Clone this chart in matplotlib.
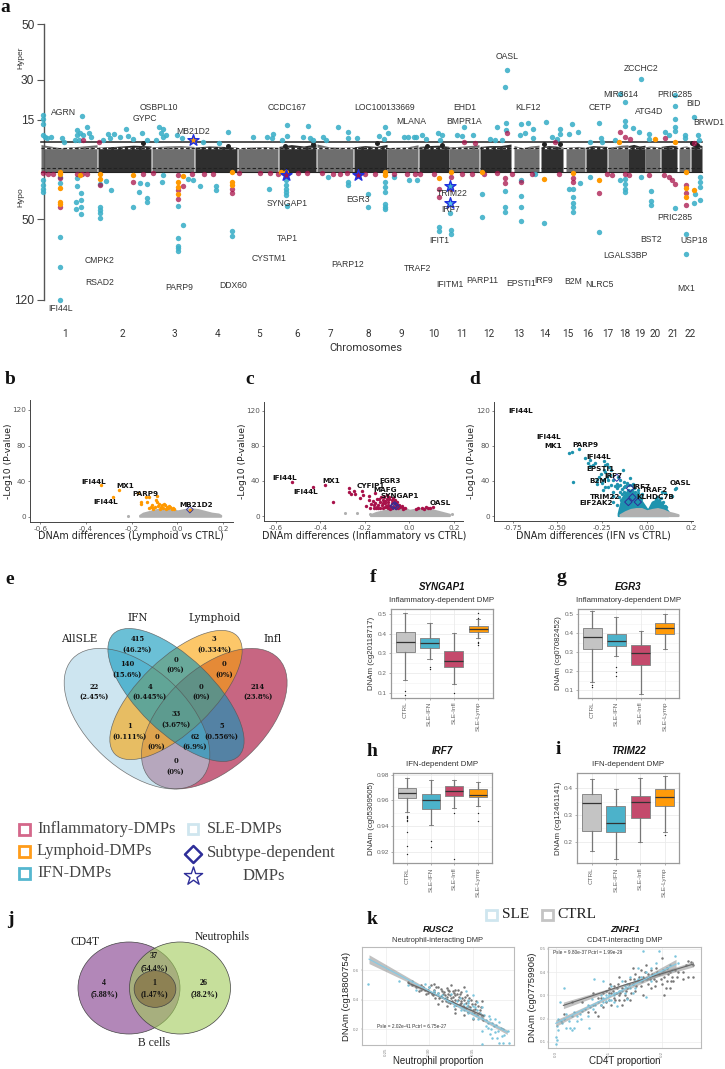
import numpy as np
import matplotlib
matplotlib.use('Agg')
import matplotlib.pyplot as plt
from matplotlib.patches import Ellipse, Rectangle

plt.rcParams['font.family'] = ['Liberation Sans', 'DejaVu Sans']

W, H = 725, 1069
TEAL, RED, ORANGE, GREY = '#3fb1c9', '#a8124a', '#ff9900', '#c4c4c4'
NAVY = '#2e2e99'

# ---------------- panel a data: (position, signed -log10 P) ----------------
chrom_names = [str(i) for i in range(1, 23)]
chrom_label_pos = [65, 122.7, 174.3, 217.7, 259, 296.7, 330, 368, 401, 434.3, 462.3, 488.7, 519.3,
                   544.7, 568, 588, 608, 625.3, 640.3, 655.3, 672.7, 690.3]
chrom_start = [41, 98, 152, 195, 238, 279, 317, 354, 387, 419, 449, 480, 514, 541, 566, 586, 608, 628, 645, 661, 679, 691]
chrom_end = [97, 151, 194, 237, 278, 316, 353, 387, 418, 449, 479, 511, 539, 563, 585, 607, 628, 645, 660, 677, 690, 702]
chrom_top = [[6.5, 5.0, 5.6, 6.4], [5.2, 5.6, 6.2, 5.8], [5.4, 5.8, 6.0, 5.6], [5.3, 5.8, 5.6, 5.2], [5.0, 5.3, 5.5, 5.2],
             [5.6, 6.5, 5.8, 6.8], [6.8, 5.4, 5.2, 5.4], [5.4, 6.0, 5.6, 6.6], [5.0, 5.2, 5.4, 6.4], [5.6, 6.0, 6.2, 5.6],
             [5.4, 5.6, 6.0, 6.4], [5.6, 6.0, 6.0, 6.8], [6.0, 5.0, 5.8, 6.2], [5.4, 6.0, 5.8, 5.2], [5.2, 5.4, 5.6, 5.2],
             [5.4, 6.0, 5.8, 5.6], [5.2, 5.6, 6.2, 6.4], [6.0, 6.6, 5.8, 6.2], [5.4, 5.8, 5.6, 5.4], [5.6, 6.0, 6.2, 5.8],
             [5.0, 5.6, 5.8, 5.2], [5.4, 6.4, 6.6, 6.0]]
hyper_teal = [(43,16.9),(43,15.4),(43,13.7),(43,10),(45,9.2),(47,8.9),(51,9.4),(82,16.5),(87,12.6),(77,11.7),(77,10),(80,10.6),
 (89,10.6),(91,9.4),(75,8.3),(79,8.3),(83,10),(62,8.9),(64,7.8),(108,10.2),(114,10.2),(120,9.4),(126,12.1),(103,8.3),(110,8.9),
 (128,9.7),(133,8.6),(142,10.8),(156,8.3),(147,8.3),(159,12.8),(163,11.9),(161,10.8),(166,10),(163,9.4),(177,10),(182,8.9),(203,7.8),
 (219,7.4),(228,11),(253,9.2),(267,9.4),(273,10.2),(272,8.9),(282,8.3),(287,13.3),(287,9.7),(303,9.4),(308,13),(310,8.9),(313,8.3),
 (323,9.2),(326,8.3),(338,12.6),(348,11.1),(348,8.9),(357,8.9),(379,9.7),(385,12.8),(388,10.6),(384,8.6),(404,9.4),(408,9.4),(414,9.4),
 (416,9.2),(422,10),(426,8.6),(438,10.6),(442,10),(440,8.3),(457,10),(462,9.7),(464,12.8),(473,10),(497,12.8),(490,8.6),(495,8.3),
 (502,8.3),(506,14.1),(506,11.7),(507,33.5),(505,27.3),(521,13.6),(528,14.1),(520,10),(525,10.6),(533,11.9),(533,8.9),(546,14.2),
 (560,11.9),(560,10.2),(552,9.4),(557,8.6),(569,10.3),(572,13.7),(578,10.9),(590,7.8),(599,13.9),(601,8.9),(602,7.8),(615,8.3),
 (620,24.6),(625,21.9),(625,14.8),(625,13),(633,12.2),(639,11.1),(641,30.3),(649,10.2),(649,8.6),(665,11.1),(669,10),(675,24.4),
 (675,20.3),(675,15.4),(675,12.8),(675,11.4),(685,10),(694,16.3),(698,10),(699,8.3),(685,8.9)]
hypo_teal = [(43,-14.8),(43,-19.2),(43,-22.2),(43,-25.2),(60,-11.8),(60,-17.2),(60,-65),(60,-90.9),(60,-120),(77,-12.7),(77,-20.1),
 (81,-26.1),(76,-34.2),(81,-32.7),(76,-41),(81,-39.2),(81,-44.9),(100,-17.7),(100,-38.6),(100,-41.6),(100,-44.6),(100,-49.1),(106,-15.4),
 (111,-23.4),(133,-39.2),(139,-24.9),(140,-17.2),(147,-17.7),(147,-30.3),(147,-34.5),(162,-16.3),(163,-10.3),(178,-38),(183,-54.9),
 (178,-66.5),(178,-72.9),(178,-75.2),(178,-77.2),(188,-13.3),(193,-14.2),(200,-19.5),(216,-19.8),(216,-23.1),(232,-59.6),(232,-64.2),
 (269,-22.5),(286,-14.8),(286,-19.2),(286,-22.2),(286,-25.2),(286,-28.2),(287,-37.7),(328,-11.8),(348,-16.3),(348,-18.6),(368,-39.2),
 (368,-26.7),(385,-16.3),(385,-20.7),(385,-25.2),(385,-36.3),(385,-38.6),(385,-40.7),(394,-11.8),(409,-14.8),(417,-14.8),(439,-56.7),
 (439,-59.6),(450,-44.6),(451,-59.3),(451,-62.2),(482,-26.7),(482,-48.2),(505,-24.6),(505,-39.2),(505,-43.7),(521,-14.8),(521,-28.8),
 (521,-39.2),(521,-51.2),(535,-8.8),(544,-53.2),(569,-22.2),(573,-22.8),(573,-29.7),(573,-35),(573,-38.6),(573,-43.7),(580,-16.9),
 (590,-11.8),(599,-60.7),(620,-14.8),(625,-13.3),(625,-17.7),(625,-22.2),(625,-25.2),(641,-11.8),(651,-24.3),(651,-33.6),(651,-37.2),
 (675,-39.5),(686,-63),(686,-80.4),(694,-35),(700,-11.8),(700,-16.3),(700,-20.7),(700,-32.7),(695,-26.7)]
man_orange = [(60,-7.3),(60,-9.4),(60,-21.6),(60,-34.2),(60,-35.7),(80,-10.3),(100,-8.8),(100,-13.3),(133,-10.3),(183,-11.2),(178,-16.3),
 (178,-20.7),(178,-27.3),(232,-7.3),(232,-16.3),(232,-19.2),(281,-7.3),(286,-7.3),(385,-7.3),(385,-10.3),(439,-12.4),(451,-7.3),(482,-7.3),
 (544,-13.3),(573,-8.5),(599,-14.2),(686,-7.6),(686,-21.3),(686,-29.7),(694,-23.1),(619,7.7),(655,8.7),(675,7.6)]
man_red = [(43,-8.2),(48,-9.4),(53,-8.8),(60,-12.7),(60,-39.2),(77,-8.8),(82,-8.8),(87,-8.8),(100,-19.2),(133,-16.3),(143,-9.4),(153,-8.2),
 (178,-10.3),(178,-23.7),(178,-31.2),(183,-20.1),(192,-8.8),(204,-9.4),(213,-9.4),(232,-22.2),(232,-26.1),(239,-8.2),(260,-8.2),(270,-8.2),
 (278,-8.8),(298,-8.2),(307,-8.2),(322,-8.2),(333,-8.8),(340,-8.8),(347,-8.2),(365,-8.8),(375,-8.8),(394,-8.8),(407,-8.8),(415,-8.8),
 (420,-8.8),(434,-8.8),(439,-29.7),(439,-22.2),(451,-11.8),(451,-22.2),(462,-8.8),(472,-8.8),(484,-8.8),(497,-8.2),(505,-12.4),(505,-17.2),
 (521,-16.3),(512,-8.8),(532,-8.8),(559,-9.4),(573,-12.4),(573,-16.3),(599,-25.8),(607,-9.4),(612,-10.3),(625,-9.4),(629,-10.3),(649,-10.3),
 (664,-10.3),(669,-11.8),(672,-14.8),(675,-17.7),(686,-19.2),(686,-26.1),(686,-37.2),(83,8.3),(99,7.6),(620,10.9),(625,9.4),(630,8.8),
 (507,10.6),(464,7.8),(475,7.2),(555,7.8),(665,8.9),(694,7.4)]
man_dark = [(143,7.2),(228,5.6),(285,6),(313,7),(377,7.4),(427,6),(442,6.1),(544,7),(560,7),(697,6.1),(692,7.4)]
man_stars = [(193,8.3,ORANGE),(286,-10.3,RED),(358,-10.3,RED),(450,-19.8,TEAL),(450,-35,'#55bfe8')]
man_labels = [('AGRN',64,17.75),('OSBPL10',159,19.5),('GYPC',145,15.4),('MB21D2',193,11),('CCDC167',287,19.5),('LOC100133669',385,19.5),
 ('MLANA',411,14.5),('EHD1',465,19.5),('BMPR1A',464,14.5),('KLF12',528,19.75),('CETP',600,19.75),('OASL',507,38.5),('ZCCHC2',641,34.1),
 ('MIR3614',621,24.6),('PRIC285',675,24.4),('BID',693,21),('ATG4D',649,18),('BRWD1',709,14.2),('SYNGAP1',287,-35.4),('EGR3',358,-32),
 ('TRIM22',452,-27),('IRF7',451,-40.7),('IFIT1',439,-68.6),('TAP1',287,-66.5),('CYSTM1',269,-84.2),('PARP12',348,-89),('TRAF2',417,-92.3),
 ('IFITM1',450,-106.5),('PARP11',482,-102.8),('EPSTI1',521,-105.4),('IRF9',544,-103.3),('B2M',573,-104.2),('NLRC5',599,-106.5),
 ('LGALS3BP',625,-81),('BST2',651,-67.4),('USP18',694,-68.6),('PRIC285',675,-48.2),('MX1',686,-110),('CMPK2',100,-86),('RSAD2',100,-104.5),
 ('PARP9',179,-109),('DDX60',233,-107),('IFI44L',61,-127.7)]

# ---------------- volcano data ----------------
b_orange = [(-.334,35.6),(-.254,30),(-.28,22),(-.16,16),(-.159,14),(-.139,22),(-.131,17),(-.123,22),(-.09,23),(-.093,19),(-.09,16),(-.079,14),
 (-.117,11),(-.108,9),(-.098,11),(-.054,13),(-.061,10),(-.047,11),(-.032,10.5),(-.025,9),(-.076,9),(.055,8),(-.171,27),
 (-.11,13),(-.105,10),(-.085,12),(-.07,11),(-.065,13),(-.057,14),(-.05,9),(-.04,10),(-.035,12),(-.02,9.5),(-.015,8.5),(-.125,10)]
b_labels = [('IFI44L',-.365,39.4),('MX1',-.228,34.9),('PARP9',-.14,25.1),('IFI44L',-.314,16),('MB21D2',.082,12.6)]
b_hump_x = [-.165,-.15,-.12,-.09,-.06,-.03,0,.03,.06,.09,.12,.15,.18,.19]
b_hump_y = [1.5,4,6,8,9,9,6.5,8,9,8,6,4,3,1.5]
b_grey = [(-.215,1)]
b_diamonds = [(.055,8)]
c_red = [(-.526,39),(-.431,33),(-.379,35),(-.342,16),(-.271,31.6),(-.271,28),(-.249,29),(-.246,25),(-.264,25),(-.214,28.6),(-.207,24),(-.222,21),
 (-.181,23),(-.181,18),(-.174,14),(-.196,12),(-.177,9.5),(-.154,26),(-.147,20),(-.159,12.6),(-.147,10.7),(-.132,16),(-.117,18),(-.102,20),
 (-.124,12.6),(-.109,14.5),(-.094,16),(-.079,14.5),(-.132,8.8),(-.102,10.7),(-.079,9.5),(-.057,12.6),(-.042,10.7),(-.027,9.5),(-.064,18),
 (.055,9.5),(.075,10.7),(.093,8.8),(.105,10.7),(.03,8),(-.15,9),(-.12,9),(-.09,19),(-.07,16),(-.11,17),
 (-.165,17),(-.155,15),(-.14,13),(-.135,19),(-.128,22),(-.12,15),(-.115,22),(-.105,12),(-.1,24),(-.095,12.5),(-.09,22),(-.085,11),(-.08,18),
 (-.075,21),(-.07,10),(-.065,14),(-.055,16),(-.05,9.5),(-.045,13),(-.035,12),(-.03,8.5),(-.02,9),(-.16,9),(-.14,9.5),(-.11,10),(-.095,9),
 (-.085,8.5),(-.06,9),(.04,9),(.065,8.5),(.085,9.5)]
c_labels = [('IFI44L',-.559,43),('IFI44L',-.464,27.8),('MX1',-.349,40),('CYFIP1',-.172,34.7),('EGR3',-.087,40.4),('MAFG',-.109,29.3),
 ('SYNGAP1',-.042,22.9),('OASL',.138,15.2)]
c_hump_x = [-.175,-.15,-.11,-.08,-.05,-.02,0,.03,.06,.09,.12,.15,.18]
c_hump_y = [1.5,4,6.5,8,9,9,6.5,8,9,8,6,4,2]
c_grey = [(-.288,3.8),(-.237,3),(-.177,2.3),(-.14,2.3),(.193,2.3),(.145,2.3)]
c_diamonds = [(-.072,11.4),(-.06,11),(-.066,12.5)]
d_teal = [(-.433,72),(-.42,73.5),(-.377,76.6),(-.345,66),(-.317,64),(-.326,60),(-.289,61),(-.32,57.5),(-.237,63),(-.233,58),(-.22,59),(-.214,56),
 (-.134,52.6),(-.256,48),(-.233,50.7),(-.205,47),(-.41,39),(-.28,36.6),(-.28,41),(-.243,41),(-.215,41),(-.187,41),(-.149,41),(-.168,37),(-.13,39),
 (-.093,43),(-.112,35.4),(-.233,33.5),(-.215,33.5),(-.246,29.7),(-.187,27.8),(-.19,23),(-.168,31.6),(-.14,31),(-.075,37),(-.047,29.7),(-.026,24.8),
 (-.168,12.6),(-.187,15.6),(.164,31.6),(.159,30.5),(.14,23),(.084,27.8),(.103,26),
 (-.15,28),(-.14,25),(-.13,33),(-.125,28),(-.12,34),(-.11,38),(-.105,30),(-.1,36),(-.095,28),(-.085,35),(-.08,30),(-.07,32),(-.065,28),(-.06,24),
 (-.05,26),(-.04,22),(-.03,20),(-.155,22),(-.145,18),(-.16,34),(.05,19),(.06,22),(.07,18),(.08,21),(.09,16),(.1,12),(.11,10),(-.2,36),(-.18,34),
 (-.15,36),(-.3,58),(-.27,45),(-.25,38),(-.22,44),(-.2,53),(-.24,52),(-.16,44)]
d_labels = [('IFI44L',-.705,119.6),('IFI44L',-.55,90),('MK1',-.522,79.6),('PARP9',-.345,80.8),('IFI44L',-.267,67.8),('EPSTI1',-.257,53.3),
 ('IRF7',-.187,46),('B2M',-.274,39.6),('IRF7',-.032,33.5),('TRAF2',.047,29.7),('OASL',.19,37.3),('TRIM22',-.233,21.7),('KLHDC7B',.047,21.3),
 ('EIF2AK2',-.284,14.9)]
d_teal_hump_x = [-.16,-.14,-.12,-.1,-.08,-.06,-.04,-.02,0,.01,.03,.05,.08,.1,.12]
d_teal_hump_y = [3,20,26,30,28,24,20,14,8,8,16,18,16,10,5]
d_hump_x = [-.15,-.12,-.09,-.06,-.03,0,.03,.06,.09,.12,.15,.175]
d_hump_y = [1.5,5,7.5,8.5,8.5,6,7.5,8.5,7,4.5,3,1.5]
d_diamonds = [(-.168,43.8),(-.093,31.6),(-.08,21.3),(-.05,16),(-.103,16)]

# ---------------- venn data ----------------
venn_sets = ['AllSLE', 'IFN', 'Lymphoid', 'Infl']
venn_counts = ['22','415','3','214','140','0','0','4','0','33','1','5','0','62','0']
venn_pcts = ['(2.45%)','(46.2%)','(0.334%)','(23.8%)','(15.6%)','(0%)','(0%)','(0.445%)','(0%)','(3.67%)','(0.111%)','(0.556%)','(0%)','(6.9%)','(0%)']
venn2_counts = ['4','37','1','26']
venn2_pcts = ['(5.88%)','(54.4%)','(1.47%)','(38.2%)']

# ---------------- boxplot data: whislo, q1, med, q3, whishi, fliers ----------------
box_groups = ['CTRL', 'SLE-IFN', 'SLE-Infl', 'SLE-Lymp']
box_colors = [GREY, '#4cb2ca', '#c44a6c', '#ff9b0a']
syngap1 = [(.165,.305,.36,.41,.505,[.11,.09]),(.27,.325,.35,.377,.455,[.23,.22]),(.143,.23,.26,.31,.405,[.10]),(.38,.41,.425,.437,.475,[.505,.48,.36,.35,.34])]
egr3 = [(.145,.315,.38,.43,.515,[.13,.12]),(.28,.335,.36,.398,.485,[.225,.195,.175]),(.08,.232,.297,.337,.41,[]),(.315,.395,.425,.453,.5,[])]
irf7 = [(.951,.9615,.966,.9695,.9775,[.948,.947,.946,.945,.944,.9358,.9247,.9184]),(.941,.9535,.96,.965,.9755,[.9288,.9238]),
        (.954,.9635,.967,.971,.9755,[.95,.9143]),(.9555,.9625,.9645,.9685,.9745,[.95,.944])]
trim22 = [(.163,.24,.345,.38,.435,[]),(.135,.235,.268,.332,.397,[]),(.2,.29,.35,.37,.44,[]),(.235,.335,.367,.397,.445,[.225])]

# ---------------- scatter data panel k ----------------
rusc_sle = [(.23,.507),(.265,.53),(.275,.5),(.28,.53),(.285,.47),(.31,.45),(.325,.44),(.345,.4),(.345,.38),(.35,.43),(.342,.46),(.33,.37),(.34,.33),
 (.345,.31),(.35,.28),(.355,.33),(.36,.35),(.36,.3),(.365,.26),(.37,.27),(.372,.24),(.375,.27),(.38,.25),(.385,.2),(.365,.22),(.36,.19),(.37,.17),
 (.372,.14),(.378,.14),(.38,.11),(.385,.11),(.392,.11),(.361,.1),(.375,.18),(.368,.21),(.383,.155),(.35,.36),(.355,.385),(.335,.41),(.32,.4),(.338,.355),
 (.315,.43),(.318,.41),(.322,.395),(.328,.36),(.332,.395),(.336,.33),(.34,.37),(.343,.36),(.347,.34),(.349,.31),(.352,.35),(.354,.3),(.356,.27),(.358,.31),
 (.361,.28),(.363,.3),(.367,.24),(.369,.29),(.371,.2),(.374,.22),(.377,.23),(.379,.19),(.382,.21),(.386,.16),(.39,.19),(.30,.49),(.295,.51),(.305,.46)]
rusc_ctrl = [(.276,.52),(.28,.5),(.285,.49),(.29,.5),(.288,.46),(.295,.47),(.298,.45),(.3,.49),(.303,.44),(.305,.47),(.307,.41),(.31,.45),(.31,.49),
 (.312,.42),(.315,.46),(.315,.39),(.318,.43),(.32,.48),(.32,.36),(.322,.44),(.325,.41),(.325,.5),(.327,.46),(.328,.38),(.33,.43),(.33,.34),(.333,.47),
 (.333,.4),(.335,.37),(.335,.44),(.338,.41),(.34,.49),(.34,.35),(.342,.38),(.343,.43),(.345,.36),(.345,.32),(.348,.4),(.35,.33),(.352,.37),(.355,.3),
 (.358,.33),(.36,.395),(.36,.29),(.362,.26),(.35,.27),(.34,.3),(.33,.31),(.305,.51),(.31,.37),(.322,.47),(.328,.45),(.316,.44),(.324,.38),(.337,.39),
 (.29,.47),(.293,.49),(.296,.44),(.299,.47),(.302,.5),(.304,.43),(.306,.455),(.308,.49),(.311,.41),(.313,.475),(.314,.425),(.317,.455),(.319,.395),
 (.32,.42),(.321,.385),(.323,.46),(.324,.43),(.326,.395),(.327,.42),(.329,.47),(.33,.4),(.331,.365),(.332,.44),(.334,.42),(.336,.38),(.337,.455),
 (.339,.36),(.34,.4),(.341,.42),(.342,.345),(.344,.39),(.346,.41),(.347,.35),(.349,.37),(.351,.31),(.353,.34),(.354,.39),(.356,.36),(.357,.31),(.359,.35)]
rusc_sle_fit = ([.2308,.31,.3896],[.677,.43,.18],[.03,.006,.015])
rusc_ctrl_fit = ([.276,.32,.3627],[.514,.403,.29],[.012,.005,.012])
znrf_sle = [(0,.09),(0,.12),(.002,.11),(.005,.15),(.003,.17),(.005,.2),(.01,.19),(.012,.18),(.02,.16),(.027,.16),(.03,.15),(.035,.16),(.04,.19),(.048,.2),
 (.04,.21),(.05,.235),(.062,.16),(.008,.27),(.016,.33),(.06,.21),(.065,.25),(.07,.24),(.075,.26),(.068,.285),(.073,.37),(.085,.26),(.09,.29),(.09,.36),
 (.095,.275),(.1,.28),(.095,.3),(.105,.34),(.11,.31),(.12,.32),(.125,.36),(.13,.34),(.14,.33),(.14,.38),(.145,.31),(.15,.36),(.155,.42),(.16,.38),
 (.165,.49),(.17,.4),(.18,.36),(.18,.42),(.19,.44),(.195,.49),(.205,.41),(.21,.42),(.225,.47),(.22,.41),(.17,.295),(.135,.285),(.115,.255),(.11,.27),
 (.015,.2),(.02,.22),(.025,.19),(.03,.21),(.035,.23),(.045,.22),(.055,.24),(.06,.26),(.07,.26),(.08,.27),(.085,.3),(.09,.27),(.1,.3),(.105,.28),(.11,.3),
 (.115,.31),(.125,.32),(.13,.31),(.135,.35),(.145,.35),(.15,.33),(.155,.37),(.16,.36),(.17,.37),(.175,.38),(.185,.39),(.2,.4),(.215,.43),(.23,.44)]
znrf_ctrl = [(.015,.22),(.03,.27),(.05,.27),(.06,.23),(.075,.23),(.08,.21),(.085,.29),(.09,.25),(.095,.32),(.1,.28),(.1,.33),(.105,.26),(.105,.31),(.11,.34),
 (.11,.29),(.115,.33),(.12,.28),(.12,.3),(.12,.38),(.125,.33),(.125,.26),(.13,.36),(.13,.3),(.135,.33),(.135,.29),(.14,.37),(.14,.28),(.145,.35),(.145,.42),
 (.15,.32),(.15,.39),(.155,.36),(.16,.34),(.16,.41),(.165,.3),(.165,.38),(.17,.43),(.175,.35),(.175,.39),(.18,.33),(.18,.41),(.185,.37),(.19,.36),(.19,.42),
 (.195,.39),(.2,.35),(.2,.46),(.205,.3),(.205,.38),(.21,.36),(.21,.42),(.215,.33),(.215,.4),(.22,.38),(.225,.41),(.23,.4),(.24,.4),(.245,.43),(.25,.45),
 (.255,.445),(.26,.43),(.26,.38),(.25,.38),(.24,.37),
 (.07,.31),(.08,.29),(.085,.26),(.09,.31),(.095,.27),(.1,.31),(.102,.35),(.108,.32),(.112,.28),(.114,.31),(.118,.35),(.122,.31),(.128,.28),(.132,.32),(.138,.35),
 (.142,.31),(.148,.37),(.152,.34),(.158,.38),(.162,.36),(.168,.4),(.172,.37),(.178,.37),(.182,.39),(.188,.34),(.192,.4),(.198,.37),(.202,.41),(.208,.33),
 (.212,.39),(.218,.36),(.222,.36),(.228,.38)]
znrf_sle_fit = ([0,.11,.227],[.18,.305,.435],[.014,.005,.02])
znrf_ctrl_fit = ([.0145,.13,.26],[.257,.345,.435],[.014,.005,.012])

# ---------------- figure ----------------
fig = plt.figure(figsize=(W / 100, H / 100), dpi=100, facecolor='white')
def axpx(l, t, r, b):
    return fig.add_axes([l / W, 1 - b / H, (r - l) / W, (b - t) / H])

# --- panel a
axa = axpx(44, 24.5, 705, 300)
vals = np.array([-200, -120, -50, -7.3, 7.3, 15, 30, 50, 70], float)
pos = np.array([-388, -300, -219.5, -172, -143, -120, -80, -24.5, 30], float)
axa.set_yscale('function', functions=(lambda v: np.interp(v, vals, pos), lambda p: np.interp(p, pos, vals)))
axa.set_ylim(-120, 50)
axa.set_xlim(44, 705)
for s, e, top, i in zip(chrom_start, chrom_end, chrom_top, range(22)):
    xs = np.linspace(s, e, len(top))
    axa.fill_between(xs, -7.2, top, color='#6e6e6e' if i % 2 == 0 else '#2f2f2f', lw=0, zorder=2, clip_on=False)
axa.axhline(4.6, color='white', lw=1.0, ls=(0, (3, 2)), zorder=3)
for yv, ls, lw in [(7.6, '-', 1.1), (4.6, (0, (3, 2)), .8), (-5.4, (0, (3, 2)), .8), (-7.2, '-', .8)]:
    axa.plot([41, 702], [yv, yv], color='#222', ls=ls, lw=lw, zorder=3, clip_on=False)
def sc(ax, pts, **kw):
    arr = np.array(pts)
    ax.scatter(arr[:, 0], arr[:, 1], **kw)
sc(axa, man_dark, s=13, c='#222', lw=0, zorder=4)
sc(axa, hyper_teal + hypo_teal, s=15, c=TEAL, alpha=.9, lw=0, zorder=4, clip_on=False)
sc(axa, man_red, s=15, c=RED, alpha=.75, lw=0, zorder=5, clip_on=False)
sc(axa, man_orange, s=15, c=ORANGE, lw=0, zorder=6, clip_on=False)
for x, y, c in man_stars:
    axa.scatter([x], [y], s=70, marker='*', c=c, edgecolors='#1f2fe0', lw=1, zorder=7)
for t, x, y in man_labels:
    axa.text(x, y, t, ha='center', va='center', fontsize=6.2, color='#333', zorder=8, clip_on=False)
for sp in ['top', 'right', 'bottom']:
    axa.spines[sp].set_visible(False)
axa.spines['left'].set_color('#555')
axa.spines['left'].set_linewidth(1)
axa.set_yticks([50, 30, 15, -50, -120], ['50', '30', '15', '50', '120'], fontsize=8.6, color='#333')
axa.tick_params(axis='y', length=5, width=.8, color='#555', pad=2)
axa.set_xticks(chrom_label_pos, chrom_names, fontsize=7.2, color='#333', fontfamily='Roboto')
axa.tick_params(axis='x', length=0, pad=21)
axa.patch.set_alpha(0)

# --- volcano panels
def volcano(rect, xlim, ylim, xticks, xlabs):
    ax = axpx(*rect)
    ax.set_xlim(*xlim); ax.set_ylim(*ylim)
    ax.set_xticks(xticks, xlabs, fontsize=5.2, color='#555', fontfamily='DejaVu Sans')
    ax.set_yticks([0, 40, 80, 120], ['0', '40', '80', '120'], fontsize=5.2, color='#555', fontfamily='DejaVu Sans')
    ax.tick_params(length=1.5, width=.5, color='#555', pad=1.5)
    for sp in ['top', 'right']:
        ax.spines[sp].set_visible(False)
    for sp in ['left', 'bottom']:
        ax.spines[sp].set_color('#444'); ax.spines[sp].set_linewidth(.7)
    return ax
def vlabels(ax, labs):
    for t, x, y in labs:
        ax.text(x, y, t, ha='center', va='center', fontsize=5.2, fontweight='bold', fontfamily='DejaVu Sans', color='#111', zorder=9)
VG = '#b0b0b0'
axb = volcano((30, 400, 233, 522), (-.645, .244), (-5.96, 131.2), [-.6, -.4, -.2, 0, .2], ['-0.6', '-0.4', '-0.2', '0.0', '0.2'])
axb.fill_between(b_hump_x, .5, b_hump_y, color=VG, lw=1.5, zorder=2)
sc(axb, b_grey, s=5, c=VG, lw=0)
sc(axb, b_orange, s=6, c=ORANGE, lw=0, zorder=3)
sc(axb, b_diamonds, s=12, marker='D', facecolors='none', edgecolors=NAVY, lw=.6, zorder=4)
vlabels(axb, b_labels)

axc = volcano((264, 401.7, 463, 521), (-.653, .241), (-5.7, 130.6), [-.6, -.4, -.2, 0, .2], ['-0.6', '-0.4', '-0.2', '0.0', '0.2'])
axc.fill_between(c_hump_x, .5, c_hump_y, color=VG, lw=1.5, zorder=2)
sc(axc, c_grey, s=5, c=VG, lw=0)
sc(axc, c_red, s=6, c=RED, lw=0, zorder=3)
sc(axc, c_diamonds, s=12, marker='D', facecolors='none', edgecolors=NAVY, lw=.7, zorder=4)
vlabels(axc, c_labels)

axd = volcano((494.3, 401.7, 692.7, 521), (-.853, .257), (-5.7, 130.6), [-.75, -.5, -.25, 0, .25], ['-0.75', '-0.50', '-0.25', '0.00', '0.2'])
axd.fill_between(d_teal_hump_x, .5, d_teal_hump_y, color='#1e93ae', lw=1.5, zorder=2)
axd.fill_between(d_hump_x, .5, d_hump_y, color=VG, lw=1.5, zorder=3)
sc(axd, d_teal, s=6, c='#1e93ae', lw=0, zorder=3)
sc(axd, d_diamonds, s=14, marker='D', facecolors='none', edgecolors=NAVY, lw=.7, zorder=4)
vlabels(axd, d_labels)

# --- boxplots
ov_items = []
def boxpanel(rect, stats, yticks, ylabels, ylim, title, sub, ylabel, ylab_x):
    ax = axpx(*rect)
    s = [dict(whislo=a, q1=b, med=c, q3=d, whishi=e, fliers=f) for a, b, c, d, e, f in stats]
    ax.set_axisbelow(True)
    bp = ax.bxp(s, positions=[1, 2, 3, 4], widths=.78, patch_artist=True, capwidths=.17,
                boxprops=dict(edgecolor='#8a8a8a', lw=.7), whiskerprops=dict(color='#777', lw=.9),
                capprops=dict(color='#777', lw=.6), medianprops=dict(color='#333', lw=.9),
                flierprops=dict(marker='o', ms=1, mfc='#222', mec='#222', mew=0))
    for patch, c in zip(bp['boxes'], box_colors):
        patch.set_facecolor(c)
    ax.set_xlim(.4, 4.6); ax.set_ylim(*ylim)
    ax.set_yticks(yticks, ylabels, fontsize=4.6, color='#666')
    ax.set_xticks([1, 2, 3, 4], box_groups, fontsize=4.6, color='#666', rotation=90)
    ax.tick_params(length=1.5, width=.4, color='#777', pad=1.5)
    ax.grid(True, color='#ebebeb', lw=.6)
    for yt0, yt1 in zip(yticks[:-1], yticks[1:]):
        ax.axhline((yt0 + yt1) / 2, color='#f2f2f2', lw=.4, zorder=0)
    for sp in ax.spines.values():
        sp.set_color('#9a9a9a'); sp.set_linewidth(.9)
    cx = (rect[0] + rect[2]) / 2
    ov_items.append((cx, rect[1] - 22, title, sub, rect[1] - 9, ylab_x, (rect[1] + rect[3]) / 2, ylabel))
    return ax

boxpanel((390.7, 609, 492.7, 697.7), syngap1, [.1, .2, .3, .4, .5], ['0.1', '0.2', '0.3', '0.4', '0.5'], (.075, .525),
         'SYNGAP1', 'Inflammatory-dependent DMP', 'DNAm (cg20118717)', 372)
boxpanel((577.7, 609, 679.3, 697.7), egr3, [.1, .2, .3, .4, .5], ['0.1', '0.2', '0.3', '0.4', '0.5'], (.062, .527),
         'EGR3', 'Inflammatory-dependent DMP', 'DNAm (cg07082452)', 558.5)
boxpanel((393, 773.3, 492, 863.3), irf7, [.92, .94, .96, .98], ['0.92', '0.94', '0.96', '0.98'], (.9112, .981),
         'IRF7', 'IFN-dependent DMP', 'DNAm (cg05309505)', 372)
boxpanel((577, 773.3, 679.3, 863.3), trim22, [.2, .3, .4], ['0.2', '0.3', '0.4'], (.118, .457),
         'TRIM22', 'IFN-dependent DMP', 'DNAm (cg12461141)', 558.5)

# --- panel k
def kpanel(rect, xlim, ylim, xticks, xl, yticks, yl, sle, ctrl, sle_fit, ctrl_fit):
    ax = axpx(*rect)
    ax.set_xlim(*xlim); ax.set_ylim(*ylim)
    ax.set_axisbelow(True)
    ax.grid(True, color='#ececec', lw=.5)
    sc(ax, ctrl, s=3.2, c='#777', lw=0, zorder=2)
    sc(ax, sle, s=3.2, c='#7cc5dc', lw=0, zorder=3)
    for fit, lc in [(ctrl_fit, '#666'), (sle_fit, '#84cbe6')]:
        fx, fy, fe = map(np.array, fit)
        ax.fill_between(fx, fy - fe, fy + fe, color='#8e8e8e', alpha=.55, lw=0, zorder=4)
        ax.plot(fx, fy, color=lc, lw=.8, zorder=5)
    ax.set_xticks(xticks, xl, fontsize=3.2, color='#888', rotation=90)
    ax.set_yticks(yticks, yl, fontsize=3.2, color='#888')
    ax.tick_params(length=1, width=.3, color='#888', pad=1)
    for sp in ax.spines.values():
        sp.set_color('#bbbbbb'); sp.set_linewidth(.8)
    return ax
kpanel((361.7, 947.3, 514, 1045), (.2224, .3973), (.0932, .7577), [.25, .30, .35], ['0.25', '0.30', '0.35'],
       [.2, .4, .6], ['0.2', '0.4', '0.6'], rusc_sle, rusc_ctrl, rusc_sle_fit, rusc_ctrl_fit)
kpanel((548.3, 946.7, 700.7, 1048), (-.014, .2736), (.0736, .5096), [0, .1, .2], ['0.0', '0.1', '0.2'],
       [.1, .2, .3, .4, .5], ['0.1', '0.2', '0.3', '0.4', '0.5'], znrf_sle, znrf_ctrl, znrf_sle_fit, znrf_ctrl_fit)

# --- overlay in pixel space: venns, legends, panel letters and shared captions
ov = axpx(0, 0, W, H)
ov.set_xlim(0, W); ov.set_ylim(H, 0); ov.axis('off'); ov.patch.set_alpha(0)
venn_geom = [((214.3, 718.7), 176, 100, -43, '#a3002f'), ((137, 718.7), 176, 100, 43, '#acd4e6'),
             ((176, 695), 170, 73, -44, '#faa305'), ((176, 695), 175, 75, 44, '#0896bb')]
for (c, w, h, ang, col) in venn_geom:
    ov.add_patch(Ellipse(c, w, h, angle=ang, facecolor=col, alpha=.6, edgecolor='none'))
for (c, w, h, ang, col) in venn_geom:
    ov.add_patch(Ellipse(c, w, h, angle=ang, facecolor='none', edgecolor='#555', lw=.5, alpha=.8))
venn_xy = [(93.7,686.7,697.3),(137.3,639.3,650.3),(214,639.3,650.3),(257.7,686.7,697.3),(127.3,664.3,675),(175.7,659.7,670),(224.3,664.3,675),
           (150,686.7,697.3),(201.3,686.7,697.3),(175.7,714,724.7),(129.7,726,737),(221.7,726,737),(156.7,736.7,747),(195,736.7,747),(175.7,761,771.7)]
for n, p, (x, y1, y2) in zip(venn_counts, venn_pcts, venn_xy):
    ov.text(x, y1, n, ha='center', va='center', fontsize=4.9, fontweight='bold', fontfamily='DejaVu Serif', color='#111')
    ov.text(x, y2, p, ha='center', va='center', fontsize=4.9, fontweight='bold', fontfamily='DejaVu Serif', color='#111')
for t, (x, y) in zip(venn_sets, [(79, 639), (137.3, 617.7), (214.3, 617.7), (272.3, 639.3)]):
    ov.text(x, y, t, ha='center', va='center', fontsize=7.6, fontfamily='DejaVu Serif', color='#222')

SERIF = 'Liberation Serif'
for y, col, t in [(829, '#d4678a', 'Inflammatory-DMPs'), (851, '#ff9c1a', 'Lymphoid-DMPs'), (873, '#55b7cf', 'IFN-DMPs')]:
    ov.add_patch(Rectangle((19.5, y - 5.5), 11, 11, facecolor='white', edgecolor=col, lw=2))
    ov.text(37, y, t, ha='left', va='center', fontsize=11.9, fontfamily=SERIF, color='#444')
ov.add_patch(Rectangle((188, 823.5), 10, 10, facecolor='white', edgecolor='#cfe6ef', lw=2))
ov.text(207, 829, 'SLE-DMPs', ha='left', va='center', fontsize=11.6, fontfamily=SERIF, color='#444')
ov.scatter([193], [854], s=75, marker='D', facecolors='white', edgecolors=NAVY, lw=1.8)
ov.text(207, 853, 'Subtype-dependent', ha='left', va='center', fontsize=12, fontfamily=SERIF, color='#444')
ov.scatter([193], [876], s=190, marker='*', facecolors='white', edgecolors=NAVY, lw=1)
ov.text(264, 876, 'DMPs', ha='center', va='center', fontsize=12, fontfamily=SERIF, color='#444')

for (c, w, h, col, al) in [((129, 988), 102, 92, '#7f378a', .6), ((180, 988), 101, 92, '#a0cb58', .6), ((155, 989), 41.7, 36.7, '#6f4a20', .45)]:
    ov.add_patch(Ellipse(c, w, h, facecolor=col, alpha=al, edgecolor='none'))
    ov.add_patch(Ellipse(c, w, h, facecolor='none', edgecolor='#444', lw=.5))
for n, p, (x, y1, y2) in zip(venn2_counts, venn2_pcts, [(104, 983, 994), (154, 956, 968), (154, 983, 994), (204, 983, 994)]):
    ov.text(x, y1, n, ha='center', va='center', fontsize=5.8, fontweight='bold', fontfamily=SERIF, color='#111')
    ov.text(x, y2, p, ha='center', va='center', fontsize=5.8, fontweight='bold', fontfamily=SERIF, color='#111')
for t, x, y in [('CD4T', 85, 942), ('Neutrophils', 222, 937), ('B cells', 154, 1043)]:
    ov.text(x, y, t, ha='center', va='center', fontsize=8.4, fontfamily=SERIF, color='#222')

letters = [('a', 5, 8), ('b', 10, 379), ('c', 250, 379), ('d', 475, 379), ('e', 10, 580), ('f', 373, 578), ('g', 561, 578),
           ('h', 372, 752), ('i', 558, 750), ('j', 10, 920), ('k', 372, 919)]
for t, x, y in letters:
    ov.text(x, y, t, ha='center', va='center', fontsize=14, fontweight='bold', fontfamily=SERIF, color='#111')

ov.text(20.7, 58, 'Hyper', rotation=90, ha='center', va='center', fontsize=6, color='#333')
ov.text(20.7, 197, 'Hypo', rotation=90, ha='center', va='center', fontsize=6, color='#333')
ov.text(366, 348, 'Chromosomes', ha='center', va='center', fontsize=8, fontfamily='Roboto', color='#333')
for x, t in [(131, 'DNAm differences (Lymphoid vs CTRL)'), (364, 'DNAm differences (Inflammatory vs CTRL)'), (593, 'DNAm differences (IFN vs CTRL)')]:
    ov.text(x, 536, t, ha='center', va='center', fontsize=6.9, fontfamily='DejaVu Sans', color='#222')
for x in [8.3, 242.7, 472]:
    ov.text(x, 461, '-Log10 (P-value)', rotation=90, ha='center', va='center', fontsize=6.7, fontfamily='DejaVu Sans', color='#222')

for cx, ty, title, sub, sy, lx, ly, ylabel in ov_items:
    ov.text(cx, ty, title, ha='center', va='center', fontsize=7, fontweight='bold', fontstyle='italic', color='#111')
    ov.text(cx, sy, sub, ha='center', va='center', fontsize=5.7, color='#333')
    ov.text(lx, ly, ylabel, rotation=90, ha='center', va='center', fontsize=5.7, color='#333')

ov.add_patch(Rectangle((486.5, 909.5), 10.5, 10.5, facecolor='white', edgecolor='#cfe6ef', lw=2))
ov.text(502, 915, 'SLE', ha='left', va='center', fontsize=11, fontfamily=SERIF, color='#222')
ov.add_patch(Rectangle((542.5, 909.5), 10.5, 10.5, facecolor='white', edgecolor='#c4c4c4', lw=2))
ov.text(557, 915, 'CTRL', ha='left', va='center', fontsize=11, fontfamily=SERIF, color='#222')
for x, title, sub, px, py, ptxt in [(438, 'RUSC2', 'Neutrophil-interacting DMP', 412, 1026, 'Psle = 2.02e-41 Pctrl = 6.75e-27'),
                                    (625, 'ZNRF1', 'CD4T-interacting DMP', 588, 952, 'Psle = 9.80e-37 Pctrl = 1.99e-29')]:
    ov.text(x, 929, title, ha='center', va='center', fontsize=6.6, fontweight='bold', fontstyle='italic', color='#111')
    ov.text(x, 940, sub, ha='center', va='center', fontsize=5.4, color='#333')
    ov.text(px, py, ptxt, ha='center', va='center', fontsize=3.4, color='#333')
ov.text(346.7, 996, 'DNAm (cg18800754)', rotation=90, ha='center', va='center', fontsize=6.8, color='#222')
ov.text(533, 997, 'DNAm (cg07759906)', rotation=90, ha='center', va='center', fontsize=6.8, color='#222')
ov.text(437.7, 1061.5, 'Neutrophil proportion', ha='center', va='center', fontsize=7, color='#222')
ov.text(625, 1061.5, 'CD4T proportion', ha='center', va='center', fontsize=7, color='#222')

fig.savefig('out.png', dpi=100, facecolor='white')
